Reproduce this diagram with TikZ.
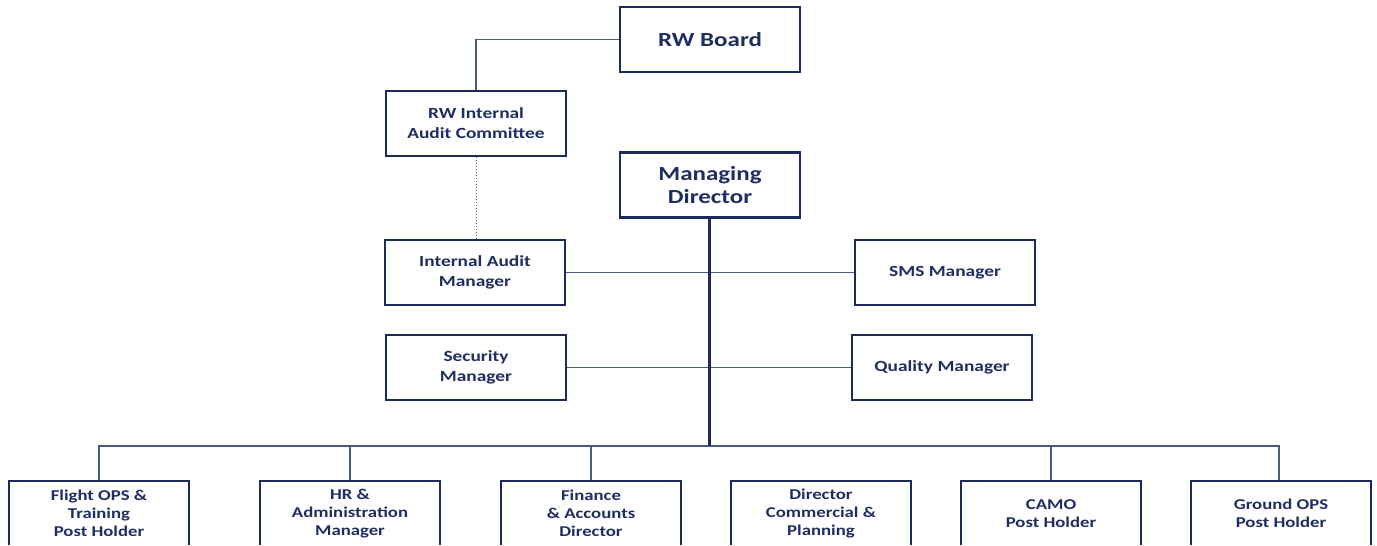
\documentclass[tikz,border=0pt]{standalone}
\usepackage{fontspec}
\setmainfont[FakeStretch=1.25]{Carlito}
\definecolor{navy}{HTML}{1C2A5A}
\definecolor{inkc}{HTML}{1F2E62}
\definecolor{linkc}{HTML}{4A5A82}
\begin{document}
\begin{tikzpicture}[x=1pt,y=-1pt,
  box/.style={draw=navy,line width=2.2pt,fill=white,rectangle,minimum width=180pt,minimum height=65pt,
    align=center,text=inkc,font=\bfseries,inner sep=2pt},
  bigbox/.style={box,font=\fontsize{20}{23}\selectfont\bfseries},
  midbox/.style={box,font=\fontsize{15.5}{20}\selectfont\bfseries},
  lowbox/.style={box,font=\fontsize{15}{18}\selectfont\bfseries},
  link/.style={draw=linkc,line width=1.4pt},
  spine/.style={draw=navy,line width=3pt}]
\useasboundingbox (0,0) rectangle (1377,546);
\clip (0,0) rectangle (1377,544.6);

% upper tiers
\node[bigbox] (board) at (710,39.5) {RW Board};
\node[midbox] (iac) at (476,123.5) {RW Internal\\Audit Committee};
\node[bigbox] (md) at (710,185) {Managing\\Director};
\node[midbox] (iam) at (475,272.5) {Internal Audit\\Manager};
\node[midbox] (sms) at (945,272.5) {SMS Manager};
\node[midbox] (sec) at (476,367.5) {Security\\Manager};
\node[midbox] (qm) at (942,367.5) {Quality Manager};

% bottom tier (lower edges run off the page)
\node[lowbox] (fops) at (99,513.5) {Flight OPS \&\\Training\\Post Holder};
\node[lowbox] (hr) at (350,513.5) {HR \&\\Administration\\Manager};
\node[lowbox] (fin) at (591,513.5) {Finance\\\& Accounts\\Director};
\node[lowbox] (dcp) at (821,513.5) {Director\\Commercial \&\\Planning};
\node[lowbox] (camo) at (1051,513.5) {CAMO\\Post Holder};
\node[lowbox] (gops) at (1281,513.5) {Ground OPS\\Post Holder};

\coordinate (busL) at (99,446);
\coordinate (busR) at (1279,446);
\coordinate (spineEnd) at (709,446);

% connectors
\draw[link] (iac.north) |- (board.west);
\draw[draw=linkc,line width=1pt,dotted] (iac.south) -- (iam.north -| iac.south);
\draw[link] (iam.east) -- (sms.west);
\draw[link] (sec.east) -- (qm.west);
\draw[link] (fops.north) -- (busL) -- (busR) -- (gops.north -| busR);
\draw[link] (hr.north) -- (hr.north |- busL);
\draw[link] (fin.north) -- (fin.north |- busL);
\draw[link] (camo.north) -- (camo.north |- busL);
\draw[spine] (md.south -| spineEnd) -- (spineEnd);
\end{tikzpicture}
\end{document}
